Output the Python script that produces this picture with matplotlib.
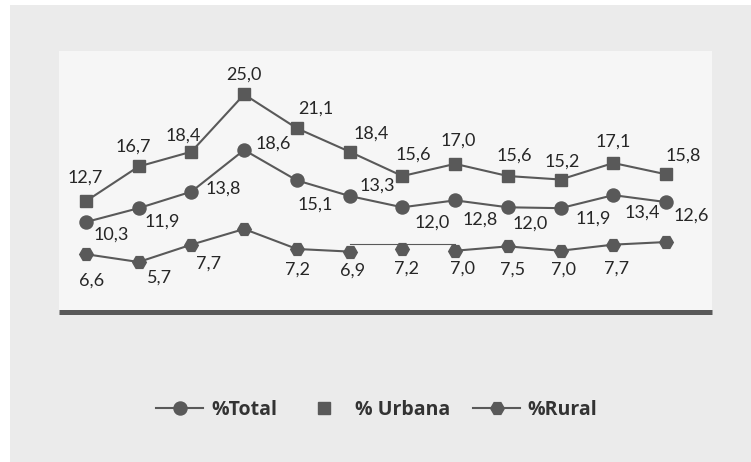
import matplotlib
matplotlib.use("Agg")
import matplotlib.pyplot as plt
import matplotlib.transforms as mtransforms
from matplotlib.lines import Line2D
from matplotlib.patches import Rectangle

# ---- data -----------------------------------------------------------------
periods = list(range(12))
total = [10.3, 11.9, 13.8, 18.6, 15.1, 13.3, 12.0, 12.8, 12.0, 11.9, 13.4, 12.6]
urbana = [12.7, 16.7, 18.4, 25.0, 21.1, 18.4, 15.6, 17.0, 15.6, 15.2, 17.1, 15.8]
rural = [6.6, 5.7, 7.7, 9.5, 7.2, 6.9, 7.2, 7.0, 7.5, 7.0, 7.7, 8.0]
series_names = ["%Total", "% Urbana", "%Rural"]

# ---- label placement (pixel offsets from each point: dx, dy downward) ------
urbana_off = [(-1, -24), (-5, -20), (-8, -16), (0, -20), (19, -20), (22, -18),
              (11, -21), (3, -23), (6, -20), (2, -18), (0, -21), (17, -19)]
total_off = [(25, 13), (24, 13), (32, -3), (29, -6), (18, 24), (28, -10),
             (30, 15), (25, 19), (22, 16), (33, 10), (29, 17), (25, 14)]
rural_off = [(6, 26), (21, 16), (17, 19), None, (1, 21), (3, 19),
             (4, 20), (7, 18), (5, 23), (3, 19), (3, 24), None]

# ---- style ------------------------------------------------------------------
DARK = "#595959"
TEXT = "#262626"
plt.rcParams["font.family"] = ["Lato", "DejaVu Sans"]

W, H = 751, 462
fig = plt.figure(figsize=(W / 100, H / 100), dpi=100, facecolor="white")
fig.patches.append(Rectangle((10 / W, 0), (W - 10) / W, (H - 5) / H,
                             transform=fig.transFigure, facecolor="#ebebeb",
                             edgecolor="none", zorder=-5))

ax = fig.add_axes([59 / W, (H - 311.5) / H, 653 / W, 260.5 / H])
ax.set_zorder(1)
ax.set_facecolor("#f6f6f6")
ax.set_xlim(-0.51, 11.87)
ax.set_ylim(0, 30)
for side in ("top", "left", "right"):
    ax.spines[side].set_visible(False)
ax.spines["bottom"].set_color(DARK)
ax.spines["bottom"].set_linewidth(3.6)
ax.spines["bottom"].set_capstyle("butt")
ax.set_xticks([])
ax.set_yticks([])

lw = 1.5
ax.plot(periods, urbana, color=DARK, lw=lw, marker="s", ms=8.6,
        mfc=DARK, mec=DARK, zorder=3)
ax.plot(periods, total, color=DARK, lw=lw, marker="o", ms=9.4,
        mfc=DARK, mec=DARK, zorder=3)

# rural: the line runs around the 6th..8th points via a thin connector
ax.plot(periods[:6], rural[:6], color=DARK, lw=lw, zorder=3)
ax.plot(periods[7:], rural[7:], color=DARK, lw=lw, zorder=3)
ax.plot(periods, rural, ls="none", marker="H", ms=9.8, mfc=DARK, mec=DARK,
        zorder=4)
lift = mtransforms.ScaledTranslation(0, 5 / 100, fig.dpi_scale_trans)
ax.plot([periods[5], periods[7]], [rural[6], rural[6]], color=DARK, lw=0.8,
        transform=ax.transData + lift, zorder=2)


def label(values, offsets):
    for x, v, off in zip(periods, values, offsets):
        if off is None:
            continue
        ax.annotate(f"{v:.1f}".replace(".", ","), (x, v),
                    xytext=(off[0], -off[1]), textcoords="offset pixels",
                    ha="center", va="center", fontsize=13, color=TEXT,
                    annotation_clip=False, zorder=5)


label(urbana, urbana_off)
label(total, total_off)
label(rural, rural_off)

handles = [
    Line2D([], [], color=DARK, lw=lw, marker="o", ms=9.4, mfc=DARK, mec=DARK),
    Line2D([], [], ls="none", marker="s", ms=8.6, mfc=DARK, mec=DARK),
    Line2D([], [], color=DARK, lw=lw, marker="H", ms=9.8, mfc=DARK, mec=DARK),
]
leg = fig.legend(handles, series_names, loc="center", ncol=3,
                 bbox_to_anchor=(377 / W, 1 - 410 / H), frameon=False,
                 handlelength=2.4, handletextpad=0.4, columnspacing=1.2,
                 prop={"family": ["Open Sans", "DejaVu Sans"],
                       "weight": "bold", "size": 14})
for t in leg.get_texts():
    t.set_color("#333333")

fig.savefig("out.png", dpi=100, facecolor=fig.get_facecolor())
